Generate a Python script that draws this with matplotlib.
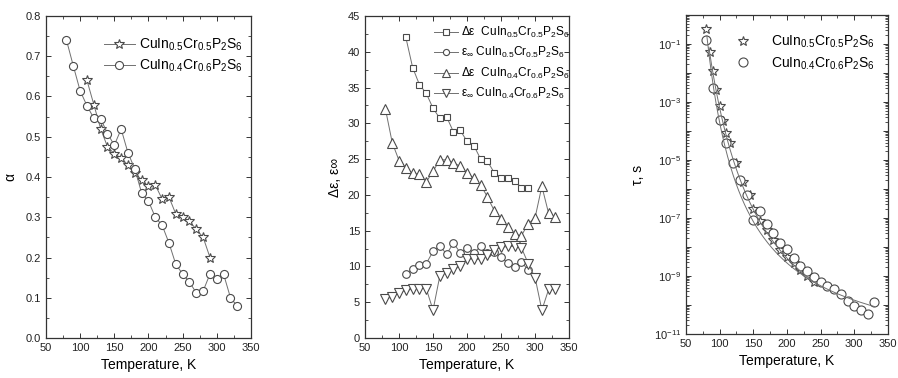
import matplotlib
matplotlib.use("Agg")
import matplotlib.pyplot as plt
import numpy as np
from matplotlib.ticker import MultipleLocator, FixedLocator, NullFormatter

plt.rcParams['font.family'] = ['Liberation Sans', 'DejaVu Sans']
plt.rcParams['mathtext.default'] = 'regular'

# alpha(T)
t_a1 = [110, 120, 130, 140, 150, 160, 170, 180, 190, 200, 210, 220, 230, 240, 250, 260, 270, 280, 290]
alpha1 = [0.64, 0.58, 0.52, 0.475, 0.458, 0.447, 0.43, 0.41, 0.393, 0.377, 0.38, 0.345, 0.35,
          0.308, 0.30, 0.29, 0.27, 0.25, 0.20]
t_a2 = list(range(80, 331, 10))
alpha2 = [0.74, 0.676, 0.614, 0.577, 0.546, 0.545, 0.508, 0.479, 0.519, 0.46, 0.42, 0.36, 0.34,
          0.30, 0.28, 0.236, 0.183, 0.159, 0.139, 0.112, 0.117, 0.159, 0.147, 0.158, 0.10, 0.079]

# dielectric strength and high-frequency permittivity
t_e1 = list(range(110, 291, 10))
deps1 = [42.0, 37.8, 35.4, 34.2, 32.1, 30.7, 30.9, 28.8, 29.0, 27.5, 26.9, 25.0, 24.7, 23.1,
         22.3, 22.4, 22.0, 21.0, 21.0]
einf1 = [8.9, 9.7, 10.2, 10.4, 12.1, 12.9, 11.7, 13.3, 11.9, 12.6, 11.9, 12.8, 11.9, 12.0,
         11.3, 10.5, 9.9, 10.6, 9.5]
t_e2 = list(range(80, 331, 10))
deps2 = [32.0, 27.3, 24.8, 23.8, 23.0, 22.9, 21.8, 23.3, 24.9, 24.9, 24.5, 24.0, 23.1, 22.3,
         21.4, 19.7, 17.8, 16.6, 15.5, 14.5, 14.3, 16.0, 16.8, 21.2, 17.4, 16.9]
einf2 = [5.4, 5.8, 6.35, 6.7, 6.8, 6.9, 6.9, 3.9, 8.7, 9.15, 9.6, 10.0, 11.1, 11.0, 11.0, 11.6,
         12.3, 12.65, 12.8, 12.8, 12.6, 10.4, 8.45, 3.9, 6.8, 6.8]

# relaxation time
t_tau1 = [80, 85, 90, 95, 100, 105, 110, 115, 125, 135, 145, 150, 160, 170, 180, 190, 200,
          210, 220, 230, 240]
tau1 = [3.2e-1, 5.4e-2, 1.2e-2, 2.5e-3, 7.2e-4, 2.3e-4, 8.7e-5, 4.0e-5, 7.8e-6, 1.8e-6, 6.2e-7,
        2.0e-7, 7.6e-8, 3.9e-8, 1.8e-8, 8.1e-9, 4.7e-9, 2.8e-9, 1.6e-9, 9.8e-10, 6.3e-10]
t_tau2 = list(range(80, 331, 10))
tau2 = [1.4e-1, 3.1e-3, 2.4e-4, 4.0e-5, 7.8e-6, 2.0e-6, 6.2e-7, 8.5e-8, 1.7e-7, 6.0e-8, 3.0e-8,
        1.35e-8, 8.3e-9, 4.1e-9, 2.2e-9, 1.5e-9, 9.5e-10, 6.3e-10, 4.6e-10, 3.5e-10, 2.4e-10,
        1.4e-10, 9.5e-11, 6.8e-11, 4.9e-11, 1.23e-10]

# Vogel-Fulcher fits: tau0 [s], E [K], T0 [K], T range
vf1 = (7.2e-14, 2105.0, 8.0, 84, 245)
vf2 = (9.1e-13, 1382.0, 28.0, 81, 330)

lab1 = 'CuIn$_{0.5}$Cr$_{0.5}$P$_2$S$_6$'
lab2 = 'CuIn$_{0.4}$Cr$_{0.6}$P$_2$S$_6$'

LC = '#707070'
MC = '#4a4a4a'


def style_axes(ax):
    for s in ax.spines.values():
        s.set_color('#333333')
        s.set_linewidth(0.9)
    ax.tick_params(which='both', direction='in', top=True, right=True,
                   colors='#333333', labelcolor='#222222', labelsize=8)
    ax.tick_params(which='major', length=3.5, width=0.7)
    ax.tick_params(which='minor', length=2, width=0.6)
    ax.set_xlim(50, 350)
    ax.xaxis.set_major_locator(MultipleLocator(50))
    ax.xaxis.set_minor_locator(MultipleLocator(25))
    ax.set_xlabel('Temperature, K', fontsize=10, labelpad=4)


fig = plt.figure(figsize=(8.98, 3.78), dpi=100)
ax1 = fig.add_axes([0.0512, 0.1058, 0.2283, 0.8519])
ax2 = fig.add_axes([0.4065, 0.1058, 0.2272, 0.8519])
ax3 = fig.add_axes([0.7639, 0.1164, 0.2249, 0.8439])

mk = dict(mfc='white', mec=MC, mew=0.8, color=LC, lw=0.7)

# alpha panel
ax1.plot(t_a1, alpha1, marker='*', ms=7, label=lab1, **mk)
ax1.plot(t_a2, alpha2, marker='o', ms=5.8, label=lab2, **mk)
style_axes(ax1)
ax1.set_ylim(0, 0.8)
ax1.yaxis.set_major_locator(MultipleLocator(0.1))
ax1.yaxis.set_minor_locator(MultipleLocator(0.05))
ax1.yaxis.set_major_formatter(matplotlib.ticker.FormatStrFormatter('%.1f'))
ax1.set_ylabel('α', fontsize=10, labelpad=6)
ax1.legend(loc='upper right', frameon=False, fontsize=10, handlelength=2.2,
           handletextpad=0.3, borderaxespad=0.5, labelspacing=0.35,
           bbox_to_anchor=(1.02, 0.975))

# permittivity panel
ax2.plot(t_e1, deps1, marker='s', ms=5, label='Δε  ' + lab1, **mk)
ax2.plot(t_e1, einf1, marker='o', ms=5.5, label='ε$_∞$ ' + lab1, **mk)
ax2.plot(t_e2, deps2, marker='^', ms=6.5, label='Δε  ' + lab2, **mk)
ax2.plot(t_e2, einf2, marker='v', ms=6.5, label='ε$_∞$ ' + lab2, **mk)
style_axes(ax2)
ax2.set_ylim(0, 45)
ax2.yaxis.set_major_locator(MultipleLocator(5))
ax2.yaxis.set_minor_locator(MultipleLocator(2.5))
ax2.set_ylabel('Δε, ε∞', fontsize=10, labelpad=4)
ax2.legend(loc='upper right', frameon=False, fontsize=8.6, handlelength=2.0,
           handletextpad=0.3, borderaxespad=0.2, labelspacing=0.45,
           markerscale=0.8, bbox_to_anchor=(1.04, 0.995))

# relaxation time panel
ax3.semilogy(t_tau1, tau1, ls='none', marker='*', ms=7, mfc='white', mec=MC, mew=0.8,
             label=lab1)
ax3.semilogy(t_tau2, tau2, ls='none', marker='o', ms=6.5, mfc='white', mec=MC, mew=0.8,
             label=lab2)
for tau0, e, t0, ta, tb in (vf1, vf2):
    tt = np.linspace(ta, tb, 300)
    ax3.semilogy(tt, tau0 * np.exp(e / (tt - t0)), color=LC, lw=0.7)
style_axes(ax3)
ax3.set_ylim(1e-11, 1e0)
ax3.yaxis.set_major_locator(FixedLocator([10.0 ** k for k in range(-11, 1)]))
ax3.yaxis.set_major_formatter(matplotlib.ticker.FuncFormatter(
    lambda v, p: '$10^{%d}$' % round(np.log10(v)) if round(np.log10(v)) % 2 else ''))
ax3.yaxis.set_minor_locator(matplotlib.ticker.LogLocator(base=10, subs=np.arange(2, 10),
                                                         numticks=20))
ax3.yaxis.set_minor_formatter(NullFormatter())
ax3.set_ylabel('τ, s', fontsize=10, labelpad=6)
ax3.legend(loc='upper right', frameon=False, fontsize=10, handletextpad=1.0,
           borderaxespad=0.4, labelspacing=0.35, bbox_to_anchor=(0.99, 0.975))

fig.savefig('out.png', dpi=100)
